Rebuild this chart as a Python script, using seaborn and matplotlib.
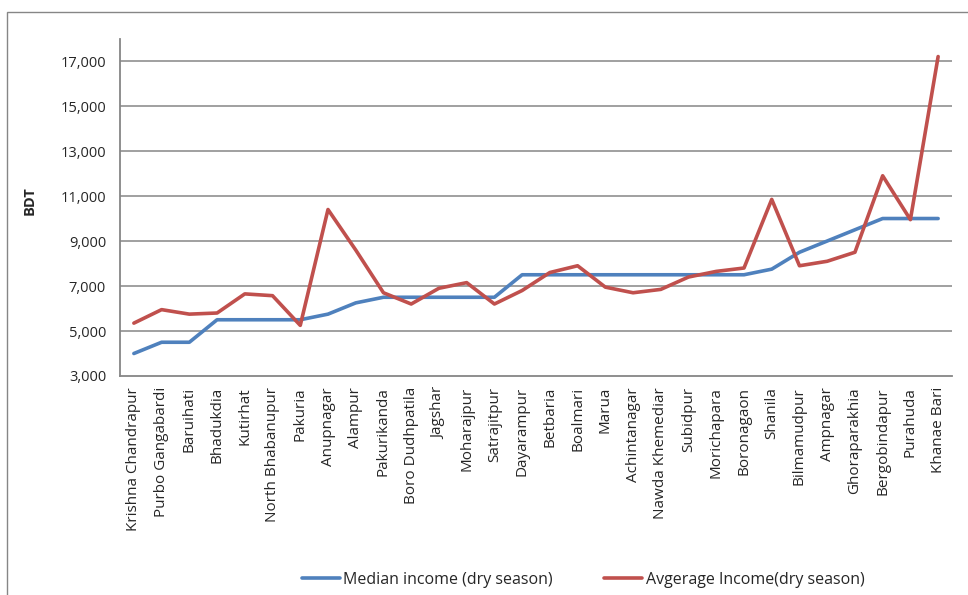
import numpy as np
import pandas as pd
import matplotlib
matplotlib.use("Agg")
import matplotlib.pyplot as plt
from matplotlib.patches import Rectangle
from matplotlib.ticker import FuncFormatter, FixedLocator
import seaborn as sns

villages = ["Krishna Chandrapur", "Purbo Gangabardi", "Baruihati", "Bhadukdia",
            "Kutirhat", "North Bhabanupur", "Pakuria", "Anupnagar", "Alampur",
            "Pakurikanda", "Boro Dudhpatila", "Jagshar", "Moharajpur", "Satrajitpur",
            "Dayarampur", "Betbaria", "Boalmari", "Marua", "Achintanagar",
            "Nawda Khemediar", "Subidpur", "Morichapara", "Boronagaon", "Shanila",
            "Bilmamudpur", "Ampnagar", "Ghoraparakhia", "Bergobindapur", "Purahuda",
            "Khanae Bari"]
median_income = [4000, 4500, 4500, 5500, 5500, 5500, 5500, 5750, 6250, 6500,
                 6500, 6500, 6500, 6500, 7500, 7500, 7500, 7500, 7500, 7500,
                 7500, 7500, 7500, 7750, 8500, 9000, 9500, 10000, 10000, 10000]
average_income = [5350, 5950, 5750, 5800, 6650, 6570, 5250, 10400, 8600, 6700,
                  6200, 6900, 7150, 6200, 6800, 7600, 7900, 6950, 6700, 6850,
                  7400, 7650, 7800, 10850, 7900, 8100, 8500, 11900, 9950, 17200]
series_names = ["Median income (dry season)", "Avgerage Income(dry season)"]
yticks = [3000, 5000, 7000, 9000, 11000, 13000, 15000, 17000]

df = pd.DataFrame({
    "pos": list(range(len(villages))) * 2,
    "value": median_income + average_income,
    "series": [series_names[0]] * len(villages) + [series_names[1]] * len(villages),
})

sns.set_style("white")
plt.rcParams["font.family"] = ["Open Sans", "DejaVu Sans"]

grey = "#868686"
colors = ["#4F81BD", "#C0504D"]
fig = plt.figure(figsize=(9.68, 5.95), dpi=100)
ax = fig.add_axes([120 / 968, 1 - 376 / 595, 832 / 968, 337 / 595])

sns.lineplot(data=df, x="pos", y="value", hue="series", ax=ax,
             palette=colors, linewidth=2.6, legend=False)

ax.set_xlim(-0.5, len(villages) - 0.5)
ax.set_ylim(3000, 17980)
ax.set_yticks(yticks)
ax.yaxis.set_major_formatter(FuncFormatter(lambda v, p: f"{int(v):,}"))
for v in yticks[1:]:
    ax.axhline(v, color=grey, linewidth=1.1, zorder=0)

ax.set_xticks(range(len(villages)))
ax.set_xticklabels(villages, rotation=90, fontsize=11)
ax.xaxis.set_minor_locator(FixedLocator(np.arange(-0.5, len(villages), 1.0)))
ax.tick_params(axis="x", which="major", length=0, pad=8)
ax.tick_params(axis="x", which="minor", length=5, color=grey, width=1)
ax.tick_params(axis="y", length=6, color=grey, width=1, labelsize=10.5, pad=4)

for s in ["top", "right"]:
    ax.spines[s].set_visible(False)
for s in ["left", "bottom"]:
    ax.spines[s].set_color(grey)
    ax.spines[s].set_linewidth(1.3)

ax.set_xlabel("")
ax.set_ylabel("BDT", fontsize=10.5, fontweight="bold")
ax.yaxis.set_label_coords(-0.1, 0.52)

handles = [plt.Line2D([], [], color=c, linewidth=2.6) for c in colors]
fig.legend(handles, series_names, loc="center", bbox_to_anchor=(583 / 968, 1 - 580 / 595),
           ncol=2, frameon=False, fontsize=11.5, handlelength=2.4, handletextpad=0.2,
           columnspacing=3.2)

fig.patches.append(Rectangle((7 / 968, -0.1), 1.2, 1.1 - 12 / 595, transform=fig.transFigure,
                             fill=False, edgecolor=grey, linewidth=1.0))

fig.savefig("out.png", dpi=100)
